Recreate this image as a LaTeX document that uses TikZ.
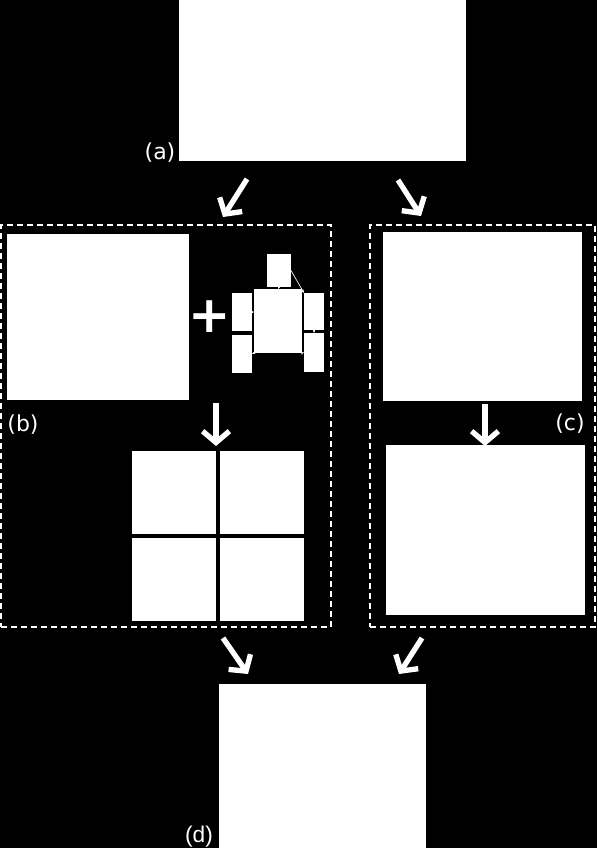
\documentclass[tikz,border=0pt]{standalone}
\usepackage{fontspec}
\newfontfamily\lblfont{DejaVu Sans}
\newfontfamily\lblfontd{Liberation Sans}
\usetikzlibrary{arrows.meta,fit}
\begin{document}
\begin{tikzpicture}[x=0.75pt,y=-0.75pt,
 img/.style={fill=white,draw=none,inner sep=0pt,outer sep=0pt},
 dbox/.style={draw=white,line width=1.2pt,dash pattern=on 4.5pt off 3pt,inner sep=0pt},
 bigarrow/.style={draw=white,line width=4pt,-{Straight Barb[length=8.5pt,width=20pt]}},
 thinarrow/.style={draw=white,line width=0.5pt,-{Stealth[length=2.5pt,width=2pt]}},
 lbl/.style={text=white,font=\lblfont\fontsize{16.5}{19}\selectfont,inner sep=0pt},
 lbld/.style={text=white,font=\lblfontd\fontsize{17}{19}\selectfont,inner sep=0pt},
 gridline/.style={draw=black,line width=2.8pt}
]
\fill[black] (0,0) rectangle (597,848);
\useasboundingbox (0,0) rectangle (597,848);

% images
\node[img,fit={(179,0) (466,161)}] (imgA) {};
\node[img,fit={(7,234) (189,400)}] (imgB) {};
\node[img,fit={(383,232) (582,401)}] (imgC1) {};
\node[img,fit={(386,445) (585,615)}] (imgC2) {};
\node[img,fit={(219,684) (426,848)}] (imgD) {};
\node[img,fit={(132,451) (304,621)}] (gridB) {};
\draw[gridline] (gridB.north) -- (gridB.south);
\draw[gridline] (gridB.west) -- (gridB.east);

% dashed boxes
\node[dbox,fit={(1,225) (331,627)}] (boxB) {};
\node[dbox,fit={(370,225) (595,627)}] (boxC) {};

% plus sign
\node[text=white,font=\lblfont\bfseries\fontsize{38}{40}\selectfont,inner sep=0pt] (plus) at (210,316.5) {+};

% small diagram
\node[img,fit={(267,254) (291,287)}] (s1) {};
\node[img,fit={(254,289) (302,353)}] (s0) {};
\node[img,fit={(232,293) (252,331)}] (sL1) {};
\node[img,fit={(232,335) (252,373)}] (sL2) {};
\node[img,fit={(304,293) (324,330)}] (sR1) {};
\node[img,fit={(304,333) (324,372)}] (sR2) {};
\draw[thinarrow] (s1.east) -- (sR1.north west);
\draw[thinarrow] (s1.south) -- (s0.north);
\draw[thinarrow] (sL1.east) -- (sL1.east -| s0.west);
\draw[thinarrow] (s0.south west) -- (sL2.east);
\draw[thinarrow] (s0.south east) -- (sR2.west);
\draw[thinarrow] (sR1.south) -- (sR2.north);

% big arrows
\coordinate (a1s) at (247,179); \coordinate (a1e) at (223,217);
\coordinate (a2s) at (398,180); \coordinate (a2e) at (421,216);
\coordinate (b1s) at (216,403); \coordinate (b1e) at (216,446);
\coordinate (c1s) at (485,404); \coordinate (c1e) at (485,446);
\coordinate (d1s) at (223,638); \coordinate (d1e) at (248,674);
\coordinate (d2s) at (422,638); \coordinate (d2e) at (399,674);
\draw[bigarrow] (a1s) -- (a1e);
\draw[bigarrow] (a2s) -- (a2e);
\draw[bigarrow] (b1s) -- (b1e);
\draw[bigarrow] (c1s) -- (c1e);
\draw[bigarrow] (d1s) -- (d1e);
\draw[bigarrow] (d2s) -- (d2e);

% labels
\node[lbl] (la) at (160,153) {(a)};
\node[lbl] (lb) at (23,425) {(b)};
\node[lbl] (lc) at (570,424) {(c)};
\node[lbld] (ld) at (199,837) {(d)};
\end{tikzpicture}
\end{document}
